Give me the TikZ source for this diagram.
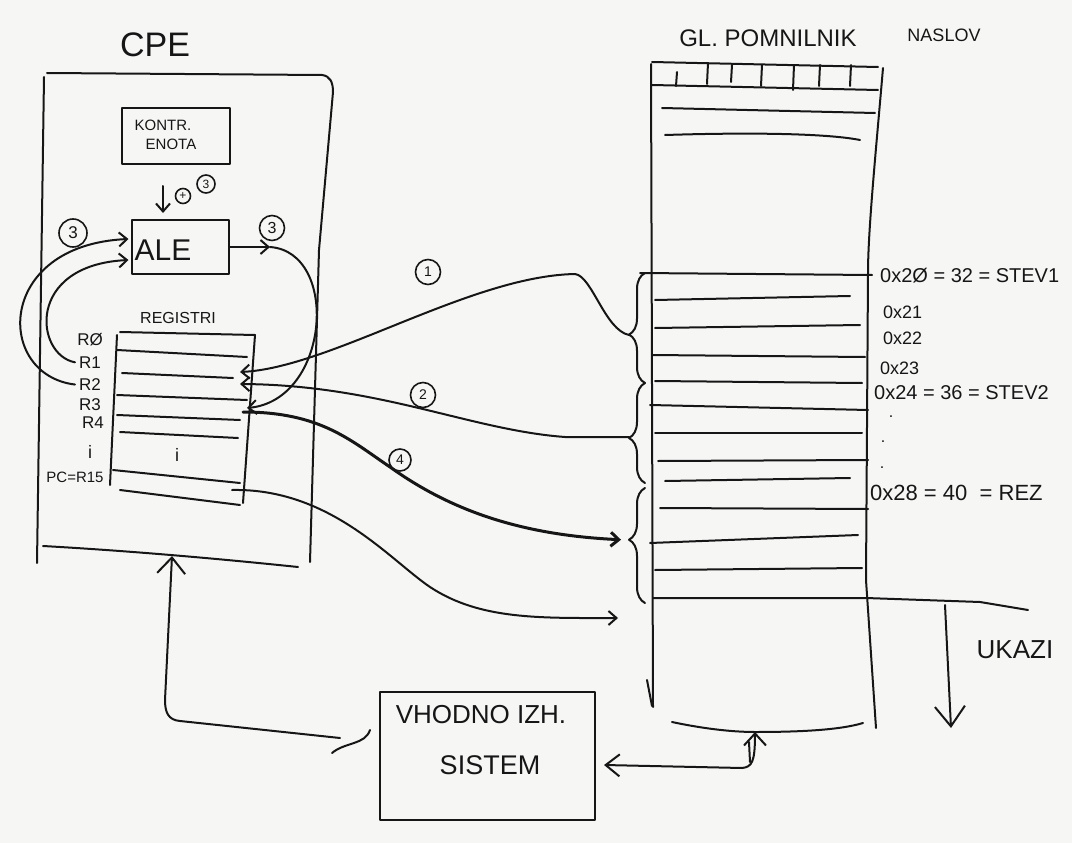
\documentclass[tikz,border=0pt]{standalone}
\usepackage{fontspec}
\setmainfont{Liberation Sans}
\usetikzlibrary{arrows.meta,decorations.pathreplacing,calc}
\definecolor{board}{RGB}{246,247,245}
\definecolor{ink}{RGB}{22,22,22}
\begin{document}
\begin{tikzpicture}[x=1pt,y=-1pt,line cap=round,line join=round,
  inkline/.style={draw=ink,line width=2pt},
  tiphead/.style={-{Straight Barb[length=8pt,width=14pt]}},
  arrowline/.style={inkline,tiphead},
  lab/.style={text=ink,inner sep=0pt,font=\fontsize{#1}{#1}\selectfont},
  cnum/.style={draw=ink,circle,line width=1.6pt,inner sep=0pt,minimum size=#1,text=ink,font=\fontsize{14}{14}\selectfont},
  boxed/.style={draw=ink,line width=2pt,rectangle,inner sep=0pt},
  mbrace/.style={inkline,decorate,decoration={brace,amplitude=16pt,aspect=#1}},
]
\fill[board] (0,0) rectangle (1072,843);
\useasboundingbox (0,0) rectangle (1072,843);

% titles
\node[lab=34] (cpet) at (155,45) {CPE};
\node[lab=24] (memt) at (768,38) {GL. POMNILNIK};
\node[lab=18] (naslov) at (944,35) {NASLOV};

% CPE outline
\draw[inkline] (47,73) -- (322,75) .. controls (330,76) and (333,82) .. (333,92) -- (319,250) -- (310,562);
\draw[inkline] (44,77) -- (37,563);
\draw[inkline] (43,546) .. controls (150,552) and (250,562) .. (298,567);

% control unit
\node[boxed,minimum width=108pt,minimum height=56pt] (kontr) at (176,136) {};
\node[lab=15] (kontr1) at (163,125) {KONTR.};
\node[lab=15] (kontr2) at (171,144) {ENOTA};

% ALE
\node[boxed,minimum width=97pt,minimum height=54pt] (ale) at (180,247) {};
\node[lab=30] (alet) at (163,250) {ALE};
\coordinate (opin) at (163,186);
\draw[arrowline,shorten >=6pt] (opin) -- (opin |- ale.north);
\node[cnum=15pt,font=\fontsize{12}{12}\selectfont] (plus) at (183,196) {+};
\node[cnum=18pt,font=\fontsize{12}{12}\selectfont] (c3top) at (206,184) {3};
\node[cnum=28pt,font=\fontsize{17}{17}\selectfont] (c3l) at (73,233) {3};
\node[cnum=25pt,font=\fontsize{16}{16}\selectfont] (c3r) at (272,228) {3};

% registers
\node[lab=16] (regt) at (178,318) {REGISTRI};
\draw[inkline] (120,332) -- (255,335);
\draw[inkline] (117,335) -- (110,485);
\draw[inkline] (255,335) -- (243,503);
\foreach \a/\b/\c/\d in {117/350/247/357, 122/373/233/378, 117/395/247/400, 117/415/240/420, 120/432/238/438, 113/470/240/483, 120/490/240/505}
  \draw[inkline] (\a,\b) -- (\c,\d);
\node[lab=18] (regdots) at (177,455) {i};
\node[lab=17] (lr0) at (90,340) {RØ};
\node[lab=17] (lr1) at (90,363) {R1};
\node[lab=17] (lr2) at (90,385) {R2};
\node[lab=17] (lr3) at (90,405) {R3};
\node[lab=17] (lr4) at (93,423) {R4};
\node[lab=18] (ldots) at (90,452) {i};
\node[lab=15] (lpc) at (75,477) {PC=R15};

\coordinate (r1in) at (240,372);
\coordinate (r2in) at (240,384);
\coordinate (r3in) at (247,408);
\coordinate (r3out) at (243,412);
\coordinate (pcout) at (232,490);

% register -> ALE
\draw[arrowline,shorten <=4pt] (lr2.west) .. controls (-5,375) and (-5,245) .. ($(ale.west)+(-2,-8)$);
\draw[arrowline,shorten <=4pt] (lr1.west) .. controls (35,355) and (25,265) .. ($(ale.west)+(-2,13)$);

% ALE -> R3
\coordinate (alemid) at (270,247);
\draw[arrowline] (ale.east) -- (alemid);
\draw[arrowline] (alemid) .. controls (340,252) and (330,400) .. (r3in);

% main memory
\draw[inkline] (652,62) -- (878,67);
\draw[inkline] (652,85) -- (878,90);
\foreach \x/\a/\b in {677/72/86,708/63/84,732/65/82,762/65/86,794/65/90,820/65/86,851/65/86}
  \draw[inkline] (\x,\a) -- (\x-1,\b);
\draw[inkline] (651,64) -- (653,707);
\draw[inkline] (647,680) -- (652,706);
\draw[inkline] (883,68) .. controls (876,150) and (868,230) .. (868,273) -- (866,580) -- (876,728);
\draw[inkline] (662,108) -- (875,113);
\draw[inkline] (665,135) .. controls (760,132) and (830,134) .. (860,140);
\draw[inkline] (640,273) -- (872,275);
\foreach \a/\b/\c/\d in {655/300/850/296, 655/328/860/325, 652/355/865/357, 655/381/862/383, 650/405/868/410, 655/433/862/433, 658/461/868/460, 665/481/850/478, 660/508/868/509, 650/543/858/535, 655/570/862/568}
  \draw[inkline] (\a,\b) -- (\c,\d);
\draw[inkline] (653,598) -- (866,598) -- (980,602) -- (1028,610);
\draw[inkline] (672,722) .. controls (700,728) and (730,732) .. (755,732) .. controls (800,732) and (840,730) .. (863,723);

% braces (words)
\draw[mbrace=0.44] (645,383) -- (645,273);
\draw[mbrace=0.45] (645,483) -- (645,383);
\draw[mbrace=0.55] (645,603) -- (645,488);
\coordinate (b1) at (629,335);
\coordinate (b2) at (629,437);
\coordinate (b3) at (627,540);
\coordinate (pcm) at (618,618);

% addresses
\node[lab=20,anchor=west] (a20) at (880,276) {0x2Ø = 32 = STEV1};
\node[lab=18,anchor=west] (a21) at (883,312) {0x21};
\node[lab=18,anchor=west] (a22) at (883,338) {0x22};
\node[lab=18,anchor=west] (a23) at (880,368) {0x23};
\node[lab=20,anchor=west] (a24) at (874,393) {0x24 = 36 = STEV2};
\node[lab=16] (d1) at (891,417) {.};
\node[lab=16] (d2) at (883,442) {.};
\node[lab=16] (d3) at (882,468) {.};
\node[lab=22,anchor=west] (a28) at (870,493) {0x28 = 40 \ = REZ};

% transfers
\draw[arrowline] (b1) .. controls (605,330) and (592,276) .. (575,274) .. controls (470,276) and (330,368) .. (r1in);
\node[cnum=25pt] (n1) at (428,272) {1};
\draw[arrowline] (b2) -- (565,437) .. controls (470,430) and (380,385) .. (r2in);
\node[cnum=25pt] (n2) at (423,395) {2};
\draw[arrowline,line width=3pt,shorten >=6pt] (r3out) .. controls (320,412) and (350,440) .. (390,467) .. controls (450,510) and (520,535) .. (b3);
\node[cnum=22pt] (n4) at (400,460) {4};
\draw[arrowline] (pcout) .. controls (330,488) and (390,560) .. (430,587) .. controls (480,620) and (540,618) .. (pcm);

% instructions
\coordinate (uk1) at (945,605);
\coordinate (uk2) at (951,728);
\draw[inkline,-{Straight Barb[length=20pt,width=30pt]}] (uk1) -- (uk2);
\node[lab=26] (ukazi) at (1015,650) {UKAZI};

% I/O system
\node[boxed,minimum width=215pt,minimum height=128pt] (vh) at (487,756) {};
\node[lab=26] (vh1) at (481,715) {VHODNO IZH.};
\node[lab=27] (vh2) at (490,765) {SISTEM};

\coordinate (vhr) at (604,765);
\coordinate (memb) at (755,732);
\draw[inkline,{Straight Barb[length=14pt,width=22pt]}-{Straight Barb[length=12pt,width=22pt]}] (vhr) -- (742,768) .. controls (752,767) and (755,762) .. (memb);
\draw[inkline] (750,762) -- (749,742);

\coordinate (vhl) at (340,738);
\coordinate (cpebot) at (172,556);
\draw[inkline,-{Straight Barb[length=16pt,width=28pt]}] (vhl) -- (180,721) .. controls (168,720) and (165,712) .. (165,700) -- (cpebot);
\draw[inkline] (332,753) .. controls (345,742) and (365,745) .. (370,730);
\end{tikzpicture}
\end{document}
